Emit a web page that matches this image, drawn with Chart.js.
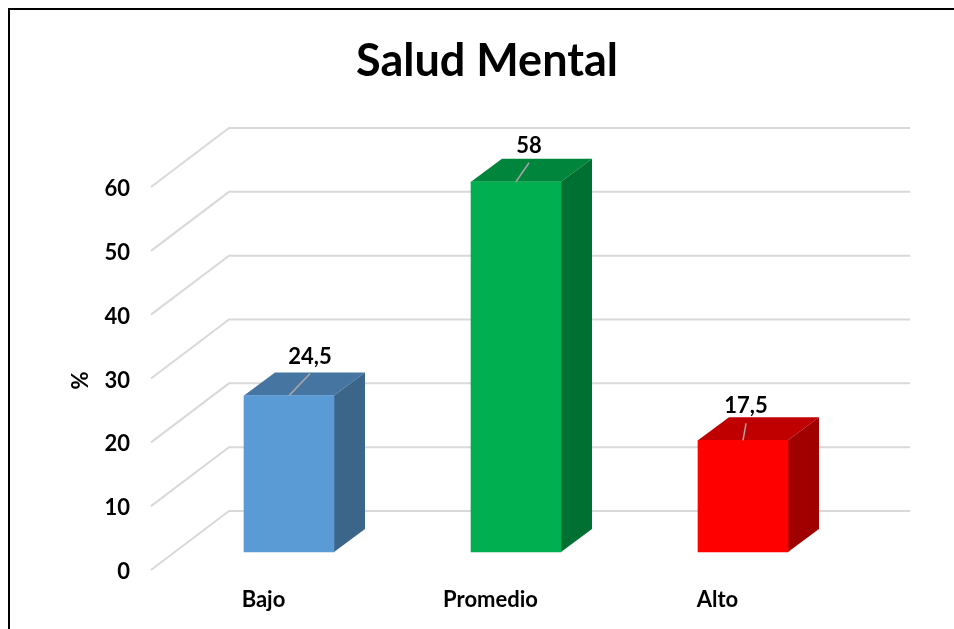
<!DOCTYPE html>
<html lang="es">
<head>
    <meta charset="UTF-8">
    <title>Salud Mental</title>
    <script src="https://cdn.jsdelivr.net/npm/chart.js"></script>
    <style>
        html, body { margin: 0; background: #fff; overflow: hidden; }
        canvas { position: absolute; left: 0; top: 0; }
        .frame { position: absolute; left: 8px; top: 8px; right: 0; bottom: 0; border-left: 2px solid #000; border-top: 2px solid #000; }
    </style>
</head>

<body>
    <div class="frame"></div>
    <canvas id="myChart" width="954" height="629"></canvas>
    <script>
        const categories = ['Bajo', 'Promedio', 'Alto'];
        const values = [24.5, 58, 17.5];
        const yMax = 60;
        const yStep = 10;

        const frontColors = ['#5B9BD5', '#00B050', '#FF0000'];
        const topColors = ['#4675A1', '#00853C', '#C00000'];
        const sideColors = ['#3B6689', '#006F32', '#A00000'];

        // leader line end, relative to the middle of the bar's front top edge
        const leaderEnds = [[21, -22], [13, -19], [3, -17]];

        const fontName = 'Lato, "Open Sans", sans-serif';
        const labelDrop = 2;            // tick labels sit this far below their gridline start
        const wallDepth = [79, -59];    // front of the axes -> back wall
        const barShift = [25.5, -18 - labelDrop];   // front of the axes -> front of the bars
        const barDepth = [31, -23];     // front of a bar -> back of a bar

        function poly(ctx, color, pts) {
            ctx.fillStyle = color;
            ctx.beginPath();
            pts.forEach((p, i) => i ? ctx.lineTo(p[0], p[1]) : ctx.moveTo(p[0], p[1]));
            ctx.closePath();
            ctx.fill();
        }

        const box3d = {
            id: 'box3d',
            afterLayout(chart) {
                // title is centred over the plot, not over the canvas
                chart.titleBlock.left = 20;
                chart.titleBlock.right = 954;
            },
            beforeDatasetsDraw(chart) {
                const ctx = chart.ctx;
                const y = chart.scales.y;
                const area = chart.chartArea;

                // walls
                ctx.save();
                ctx.strokeStyle = '#D9D9D9';
                ctx.lineWidth = 2;
                y.ticks.forEach(t => {
                    const py = y.getPixelForValue(t.value) - labelDrop;
                    ctx.beginPath();
                    ctx.moveTo(area.left + 1, py);
                    ctx.lineTo(area.left + wallDepth[0], py + wallDepth[1]);
                    ctx.lineTo(area.right + wallDepth[0], py + wallDepth[1]);
                    ctx.stroke();
                });
                ctx.restore();

                // top and side of the bars, front is drawn by chart.js
                ctx.save();
                ctx.translate(barShift[0], barShift[1]);
                chart.getDatasetMeta(0).data.forEach((bar, i) => {
                    const l = bar.x - bar.width / 2;
                    const r = bar.x + bar.width / 2;
                    const dx = barDepth[0];
                    const dy = barDepth[1];
                    poly(ctx, topColors[i], [[l, bar.y], [r, bar.y], [r + dx, bar.y + dy], [l + dx, bar.y + dy]]);
                    poly(ctx, sideColors[i], [[r, bar.y], [r + dx, bar.y + dy], [r + dx, bar.base + dy], [r, bar.base]]);
                });
                ctx.restore();

                ctx.save();
                ctx.translate(barShift[0], barShift[1]);
            },
            afterDatasetsDraw(chart) {
                const ctx = chart.ctx;
                ctx.restore();

                // value labels with leader lines
                ctx.save();
                ctx.translate(barShift[0], barShift[1]);
                ctx.font = 'bold 22px ' + fontName;
                ctx.textAlign = 'center';
                ctx.textBaseline = 'middle';
                chart.getDatasetMeta(0).data.forEach((bar, i) => {
                    const ex = bar.x + leaderEnds[i][0];
                    const ey = bar.y + leaderEnds[i][1];
                    ctx.strokeStyle = '#A6A6A6';
                    ctx.lineWidth = 1.5;
                    ctx.beginPath();
                    ctx.moveTo(bar.x, bar.y);
                    ctx.lineTo(ex, ey);
                    ctx.stroke();
                    ctx.fillStyle = '#000';
                    ctx.fillText(String(values[i]).replace('.', ','), ex, ey - 17);
                });
                ctx.restore();
            }
        };

        const myChart = new Chart(document.getElementById('myChart'), {
            type: 'bar',
            data: {
                labels: categories,
                datasets: [{
                    data: values,
                    backgroundColor: frontColors,
                    borderWidth: 0,
                    barThickness: 90,
                    clip: false
                }]
            },
            options: {
                responsive: false,
                animation: false,
                layout: { padding: { left: 0, right: 123, top: 0, bottom: 0 } },
                plugins: {
                    legend: { display: false },
                    tooltip: { enabled: false },
                    title: {
                        display: true,
                        text: 'Salud Mental',
                        color: '#000',
                        font: { family: fontName, size: 45, weight: 'bold' },
                        padding: { top: 34, bottom: 99 + labelDrop }
                    }
                },
                scales: {
                    x: {
                        grid: { display: false },
                        border: { display: false },
                        ticks: { color: '#000', padding: 9 - labelDrop, font: { family: fontName, size: 22, weight: 'bold' } },
                        afterFit(scale) { scale.height = 59 - labelDrop; }
                    },
                    y: {
                        min: 0,
                        max: yMax,
                        grid: { display: false },
                        border: { display: false },
                        ticks: { stepSize: yStep, color: '#000', padding: 12, font: { family: fontName, size: 22, weight: 'bold' } },
                        title: {
                            display: true,
                            text: '%',
                            color: '#000',
                            padding: { top: 68, bottom: 0 },
                            font: { family: fontName, size: 22, weight: 'bold' }
                        },
                        afterFit(scale) { scale.width = 150; }
                    }
                }
            },
            plugins: [box3d]
        });
    </script>
</body>

</html>
